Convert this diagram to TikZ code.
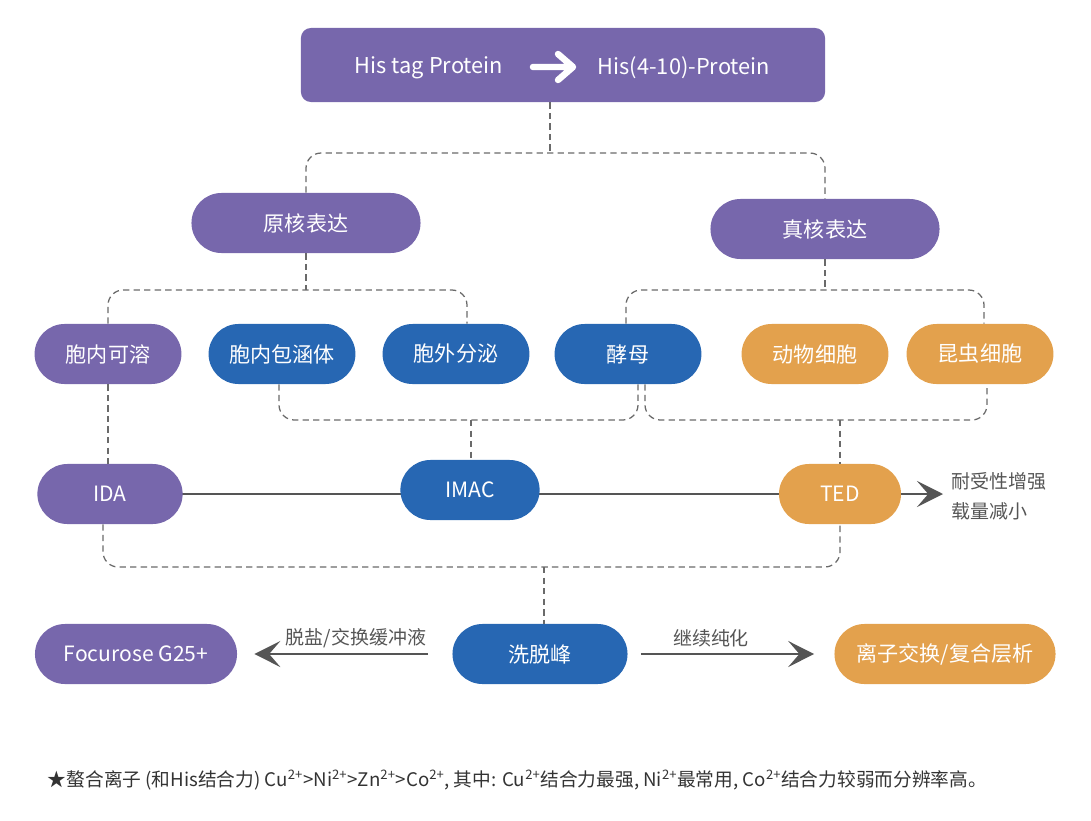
\documentclass[tikz,border=0pt]{standalone}
\usepackage{fontspec}
\setmainfont{Noto Sans CJK SC}
\usetikzlibrary{arrows.meta}

\definecolor{hispurple}{HTML}{7767AC}
\definecolor{hisblue}{HTML}{2767B3}
\definecolor{hisorange}{HTML}{E3A14D}
\definecolor{linegray}{HTML}{555555}
\definecolor{dashgray}{HTML}{6A6A6A}
\definecolor{notegray}{HTML}{333333}

\begin{document}
\begin{tikzpicture}[x=0.025cm, y=-0.025cm,
        pill/.style={rounded corners=0.75cm, minimum height=1.5cm, inner sep=0pt,
                     text=white, font=\fontsize{15}{18}\selectfont},
        dashline/.style={dashgray, line width=0.9pt, dash pattern=on 4.5pt off 3pt},
        bracket/.style={dashline, rounded corners=0.38cm},
        arrowline/.style={linegray, line width=2pt,
                          -{Stealth[length=0.65cm, width=0.65cm, inset=0.28cm]}},
        sidelabel/.style={text=linegray, font=\fontsize{13.5}{21.3}\selectfont}]
    \useasboundingbox (0,0) rectangle (1091,821);

    % header
    \node[pill, fill=hispurple, minimum width=13.1cm, minimum height=1.85cm,
          rounded corners=0.25cm] (top) at (563,65) {};
    \node[text=white, font=\fontsize{15.5}{18}\selectfont] (tagged) at (429,68) {His tag Protein};
    \node[text=white, font=\fontsize{15.5}{18}\selectfont] (cut) at (684,68) {His(4-10)-Protein};
    \draw[white, line width=4.6pt, line cap=round, line join=round]
        (533,67) -- (569,67) (558,54) -- (573,67) -- (558,80);

    % expression systems
    \node[pill, fill=hispurple, minimum width=5.725cm] (prok) at (306,223) {原核表达};
    \node[pill, fill=hispurple, minimum width=5.725cm] (euk) at (825,229) {真核表达};

    \node[pill, fill=hispurple, minimum width=3.67cm] (sol) at (108,354) {胞内可溶};
    \node[pill, fill=hisblue, minimum width=3.67cm] (incl) at (282,354) {胞内包涵体};
    \node[pill, fill=hisblue, minimum width=3.67cm] (secr) at (456,354) {胞外分泌};
    \node[pill, fill=hisblue, minimum width=3.67cm] (yeast) at (628,354) {酵母};
    \node[pill, fill=hisorange, minimum width=3.67cm] (animal) at (815,354) {动物细胞};
    \node[pill, fill=hisorange, minimum width=3.67cm] (insect) at (980,354) {昆虫细胞};

    % resins
    \draw[linegray, line width=2pt] (110,494) -- (840,494);
    \node[pill, fill=hispurple, minimum width=3.63cm] (ida) at (110,494) {IDA};
    \node[pill, fill=hisblue, minimum width=3.48cm] (imac) at (470,490) {IMAC};
    \node[pill, fill=hisorange, minimum width=3.05cm] (ted) at (840,494) {TED};

    % elution
    \node[pill, fill=hispurple, minimum width=5.05cm] (focu) at (136,654) {Focurose G25+};
    \node[pill, fill=hisblue, minimum width=4.375cm] (peak) at (540,654) {洗脱峰};
    \node[pill, fill=hisorange, minimum width=5.525cm] (ionex) at (945,654) {离子交换/复合层析};

    % dashed tree
    \coordinate (j0) at (550,153);
    \coordinate (j1) at (306,290);
    \coordinate (j2) at (825,290);
    \coordinate (j3) at (471,420);
    \coordinate (j4) at (840,420);
    \coordinate (j5) at (544,567);

    \draw[dashline] (top.south -| j0) -- (j0);
    \draw[bracket] (prok.north) |- (j0) -| (euk.north);

    \draw[dashline] (prok.south) -- (j1);
    \draw[bracket] (sol.north) |- (j1) -| ([xshift=0.275cm]secr.north);
    \draw[dashline] (euk.south) -- (j2);
    \draw[bracket] ([xshift=-0.05cm]yeast.north) |- (j2) -| ([xshift=0.1cm]insect.north);

    \draw[bracket] ([xshift=-0.075cm]incl.south) |- (j3) -| ([xshift=0.25cm]yeast.south);
    \draw[dashline] (j3) -- (j3 |- imac.north);
    \draw[bracket] ([xshift=0.425cm]yeast.south) |- (j4) -| ([xshift=0.175cm]insect.south);
    \draw[dashline] (j4) -- (ted.north);

    \draw[dashline] (sol.south) -- (sol.south |- ida.north);
    \draw[bracket] ([xshift=-0.175cm]ida.south) |- (j5) -| (ted.south);
    \draw[dashline] (j5) -- (j5 |- peak.north);

    % arrows
    \coordinate (tedtip) at (943,494);
    \draw[arrowline] (ted.east) -- (tedtip);
    \node[sidelabel, anchor=west, align=left] (tedlbl) at (947,496) {耐受性增强\\载量减小};

    \draw[arrowline] ([xshift=-0.6cm]peak.west) -- ([xshift=0.425cm]focu.east);
    \draw[arrowline] ([xshift=0.325cm]peak.east) -- ([xshift=-0.5cm]ionex.west);
    \node[sidelabel] (desalt) at (356,638) {脱盐/交换缓冲液};
    \node[sidelabel] (purify) at (711,638) {继续纯化};

    % note
    \node[anchor=west, text=notegray, font=\fontsize{13.3}{16}\selectfont] (note) at (43,780)
        {★螯合离子 (和His结合力) Cu\textsuperscript{2+}>Ni\textsuperscript{2+}>Zn\textsuperscript{2+}>Co\textsuperscript{2+}, 其中: Cu\textsuperscript{2+}结合力最强, Ni\textsuperscript{2+}最常用, Co\textsuperscript{2+}结合力较弱而分辨率高。};
\end{tikzpicture}
\end{document}
